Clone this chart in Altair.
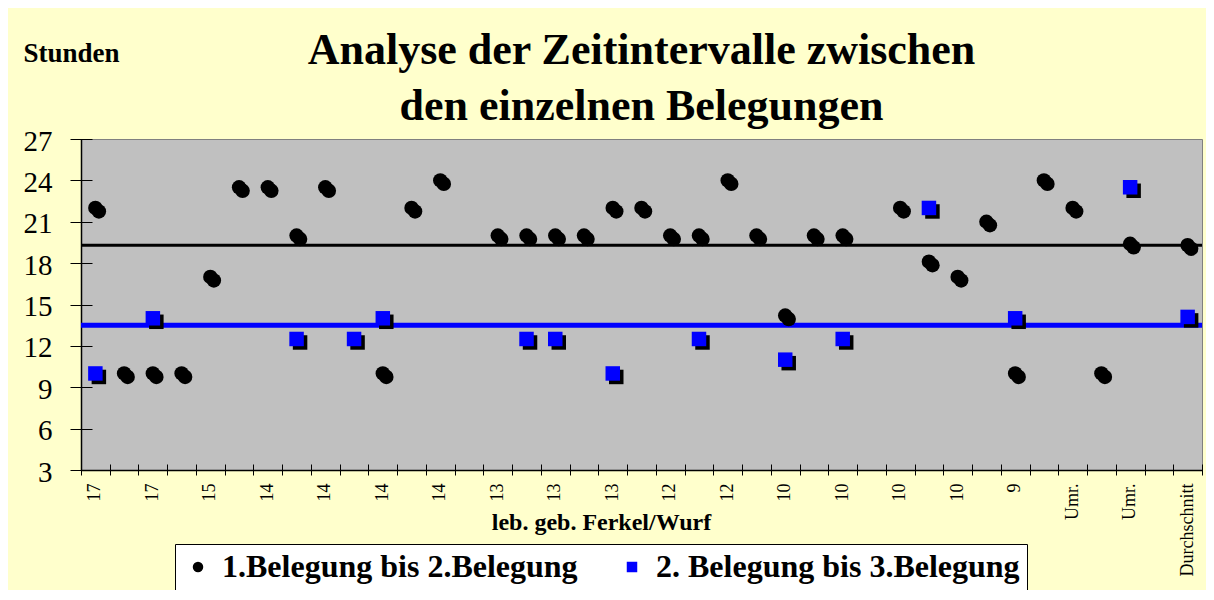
import altair as alt
import pandas as pd

# ---- data ----
categories = list(range(1, 40))
tick_labels = ["17", "17", "15", "14", "14", "14", "14", "13", "13", "13",
               "12", "12", "10", "10", "10", "10", "9", "Umr.", "Umr.", "Durchschnitt"]
series_names = ["1.Belegung bis 2.Belegung", "2. Belegung bis 3.Belegung"]
s1_values = [22, 10, 10, 10, 17, 23.5, 23.5, 20, 23.5, None,
             10, 22, 24, None, 20, 20, 20, 20, 22, 22,
             20, 20, 24, 20, 14.2, 20, 20, None, 22, 18.1,
             17, 21, 10, 24, 22, 10, 19.4, None, 19.3]
s2_values = [10, None, 14, None, None, None, None, 12.5, None, 12.5,
             14, None, None, None, None, 12.5, 12.5, None, 10, None,
             None, 12.5, None, None, 11, None, 12.5, None, None, 22,
             None, None, 14, None, None, None, 23.5, None, 14.1]
mean_values = [19.3, 13.5]
y_ticks = [3, 6, 9, 12, 15, 18, 21, 24, 27]
title_lines = ["Analyse der Zeitintervalle zwischen", "den einzelnen Belegungen"]

rows = []
for name, vals in zip(series_names, [s1_values, s2_values]):
    for c, v in zip(categories, vals):
        if v is not None:
            rows.append({"idx": c, "value": v, "series": name})
df = pd.DataFrame(rows)

FONT = "Liberation Serif"
label_expr = ("datum.value % 2 == 1 ? [" + ",".join("'%s'" % t for t in tick_labels)
              + "][(datum.value - 1) / 2] : ''")

x_scale = alt.Scale(type="band", domain=categories, paddingInner=0, paddingOuter=0)
y_scale = alt.Scale(domain=[3, 27], nice=False, zero=False)

x_axis_main = alt.Axis(orient="bottom", title="leb. geb. Ferkel/Wurf", titleFont=FONT,
                       titleFontSize=24, titleFontWeight="bold", titleColor="black",
                       titleX=520, titleY=59, titleAlign="center", titleBaseline="alphabetic",
                       labelExpr=label_expr, labelAngle=270, labelFont=FONT, labelFontSize=18,
                       labelColor="black", labelPadding=13, labelOverlap=False,
                       ticks=False, tickSize=0, domain=True, domainColor="black",
                       domainWidth=1.5, grid=False)
y_axis_main = alt.Axis(orient="left", values=y_ticks, title="Stunden", titleAngle=0,
                       titleX=-58, titleY=-78, titleAlign="left", titleBaseline="alphabetic",
                       titleFont=FONT, titleFontSize=27, titleFontWeight="bold", titleColor="black",
                       labelFont=FONT, labelFontSize=29, labelColor="black", labelPadding=29,
                       labelOffset=2, labelOverlap=False, ticks=False, tickSize=0,
                       domain=True, domainColor="black", domainWidth=1.5, grid=False)
x_axis_ticks = alt.Axis(orient="bottom", offset=-6, tickSize=11, tickColor="black",
                        tickWidth=1, tickBand="extent", labels=False, domain=False,
                        grid=False, title=None)
y_axis_ticks = alt.Axis(orient="left", offset=-11, values=y_ticks, tickSize=22,
                        tickColor="black", tickWidth=1, labels=False, domain=False,
                        grid=False, title=None)

base = alt.Chart(df)

rule1 = alt.Chart(pd.DataFrame({"mean": [mean_values[0]]})).mark_rule(
    color="black", strokeWidth=3).encode(y=alt.Y("mean:Q", scale=y_scale, axis=None))
rule2 = alt.Chart(pd.DataFrame({"mean": [mean_values[1]]})).mark_rule(
    color="#0000FF", strokeWidth=5).encode(y=alt.Y("mean:Q", scale=y_scale, axis=None))

shadow_c = base.transform_filter(alt.datum.series == series_names[0]).mark_point(
    shape="circle", filled=True, color="black", opacity=1, size=210, xOffset=3.5, yOffset=3.5
).encode(x=alt.X("idx:O", scale=x_scale, axis=x_axis_ticks),
         y=alt.Y("value:Q", scale=y_scale, axis=y_axis_ticks))
shadow_s = base.transform_filter(alt.datum.series == series_names[1]).mark_point(
    shape="square", filled=True, color="black", opacity=1, size=210, xOffset=3.5, yOffset=3.5
).encode(x=alt.X("idx:O", scale=x_scale, axis=None),
         y=alt.Y("value:Q", scale=y_scale, axis=None))

legend = alt.Legend(title=None, orient="none", legendX=94, legendY=405, direction="horizontal",
                    fillColor="white", strokeColor="black", padding=7,
                    labelFont=FONT, labelFontSize=32, labelFontWeight="bold", labelColor="black",
                    labelLimit=600, symbolSize=110, symbolStrokeWidth=0,
                    columnPadding=38, labelOffset=8)

main = base.mark_point(filled=True, opacity=1, size=210).encode(
    x=alt.X("idx:O", scale=x_scale, axis=x_axis_main),
    y=alt.Y("value:Q", scale=y_scale, axis=y_axis_main),
    color=alt.Color("series:N", scale=alt.Scale(domain=series_names, range=["black", "#0000FF"]),
                    legend=legend),
    shape=alt.Shape("series:N", scale=alt.Scale(domain=series_names, range=["circle", "square"]),
                    legend=legend),
)

chart = alt.layer(rule1, rule2, shadow_c, shadow_s, main).resolve_axis(
    x="independent", y="independent"
).properties(
    width=1121, height=331,
    autosize=alt.AutoSizeParams(type="none"),
    padding={"left": 73, "top": 131, "right": 4, "bottom": 120},
    title=alt.TitleParams(text=title_lines, font=FONT, fontSize=44, fontWeight="bold",
                          color="black", anchor="middle", frame="group", lineHeight=56,
                          offset=-90),
).configure(background="#FFFFCC").configure_view(fill="#C0C0C0", stroke="#808080", strokeWidth=1)

chart.save("out.html", embed_options={"renderer": "svg", "actions": False})
